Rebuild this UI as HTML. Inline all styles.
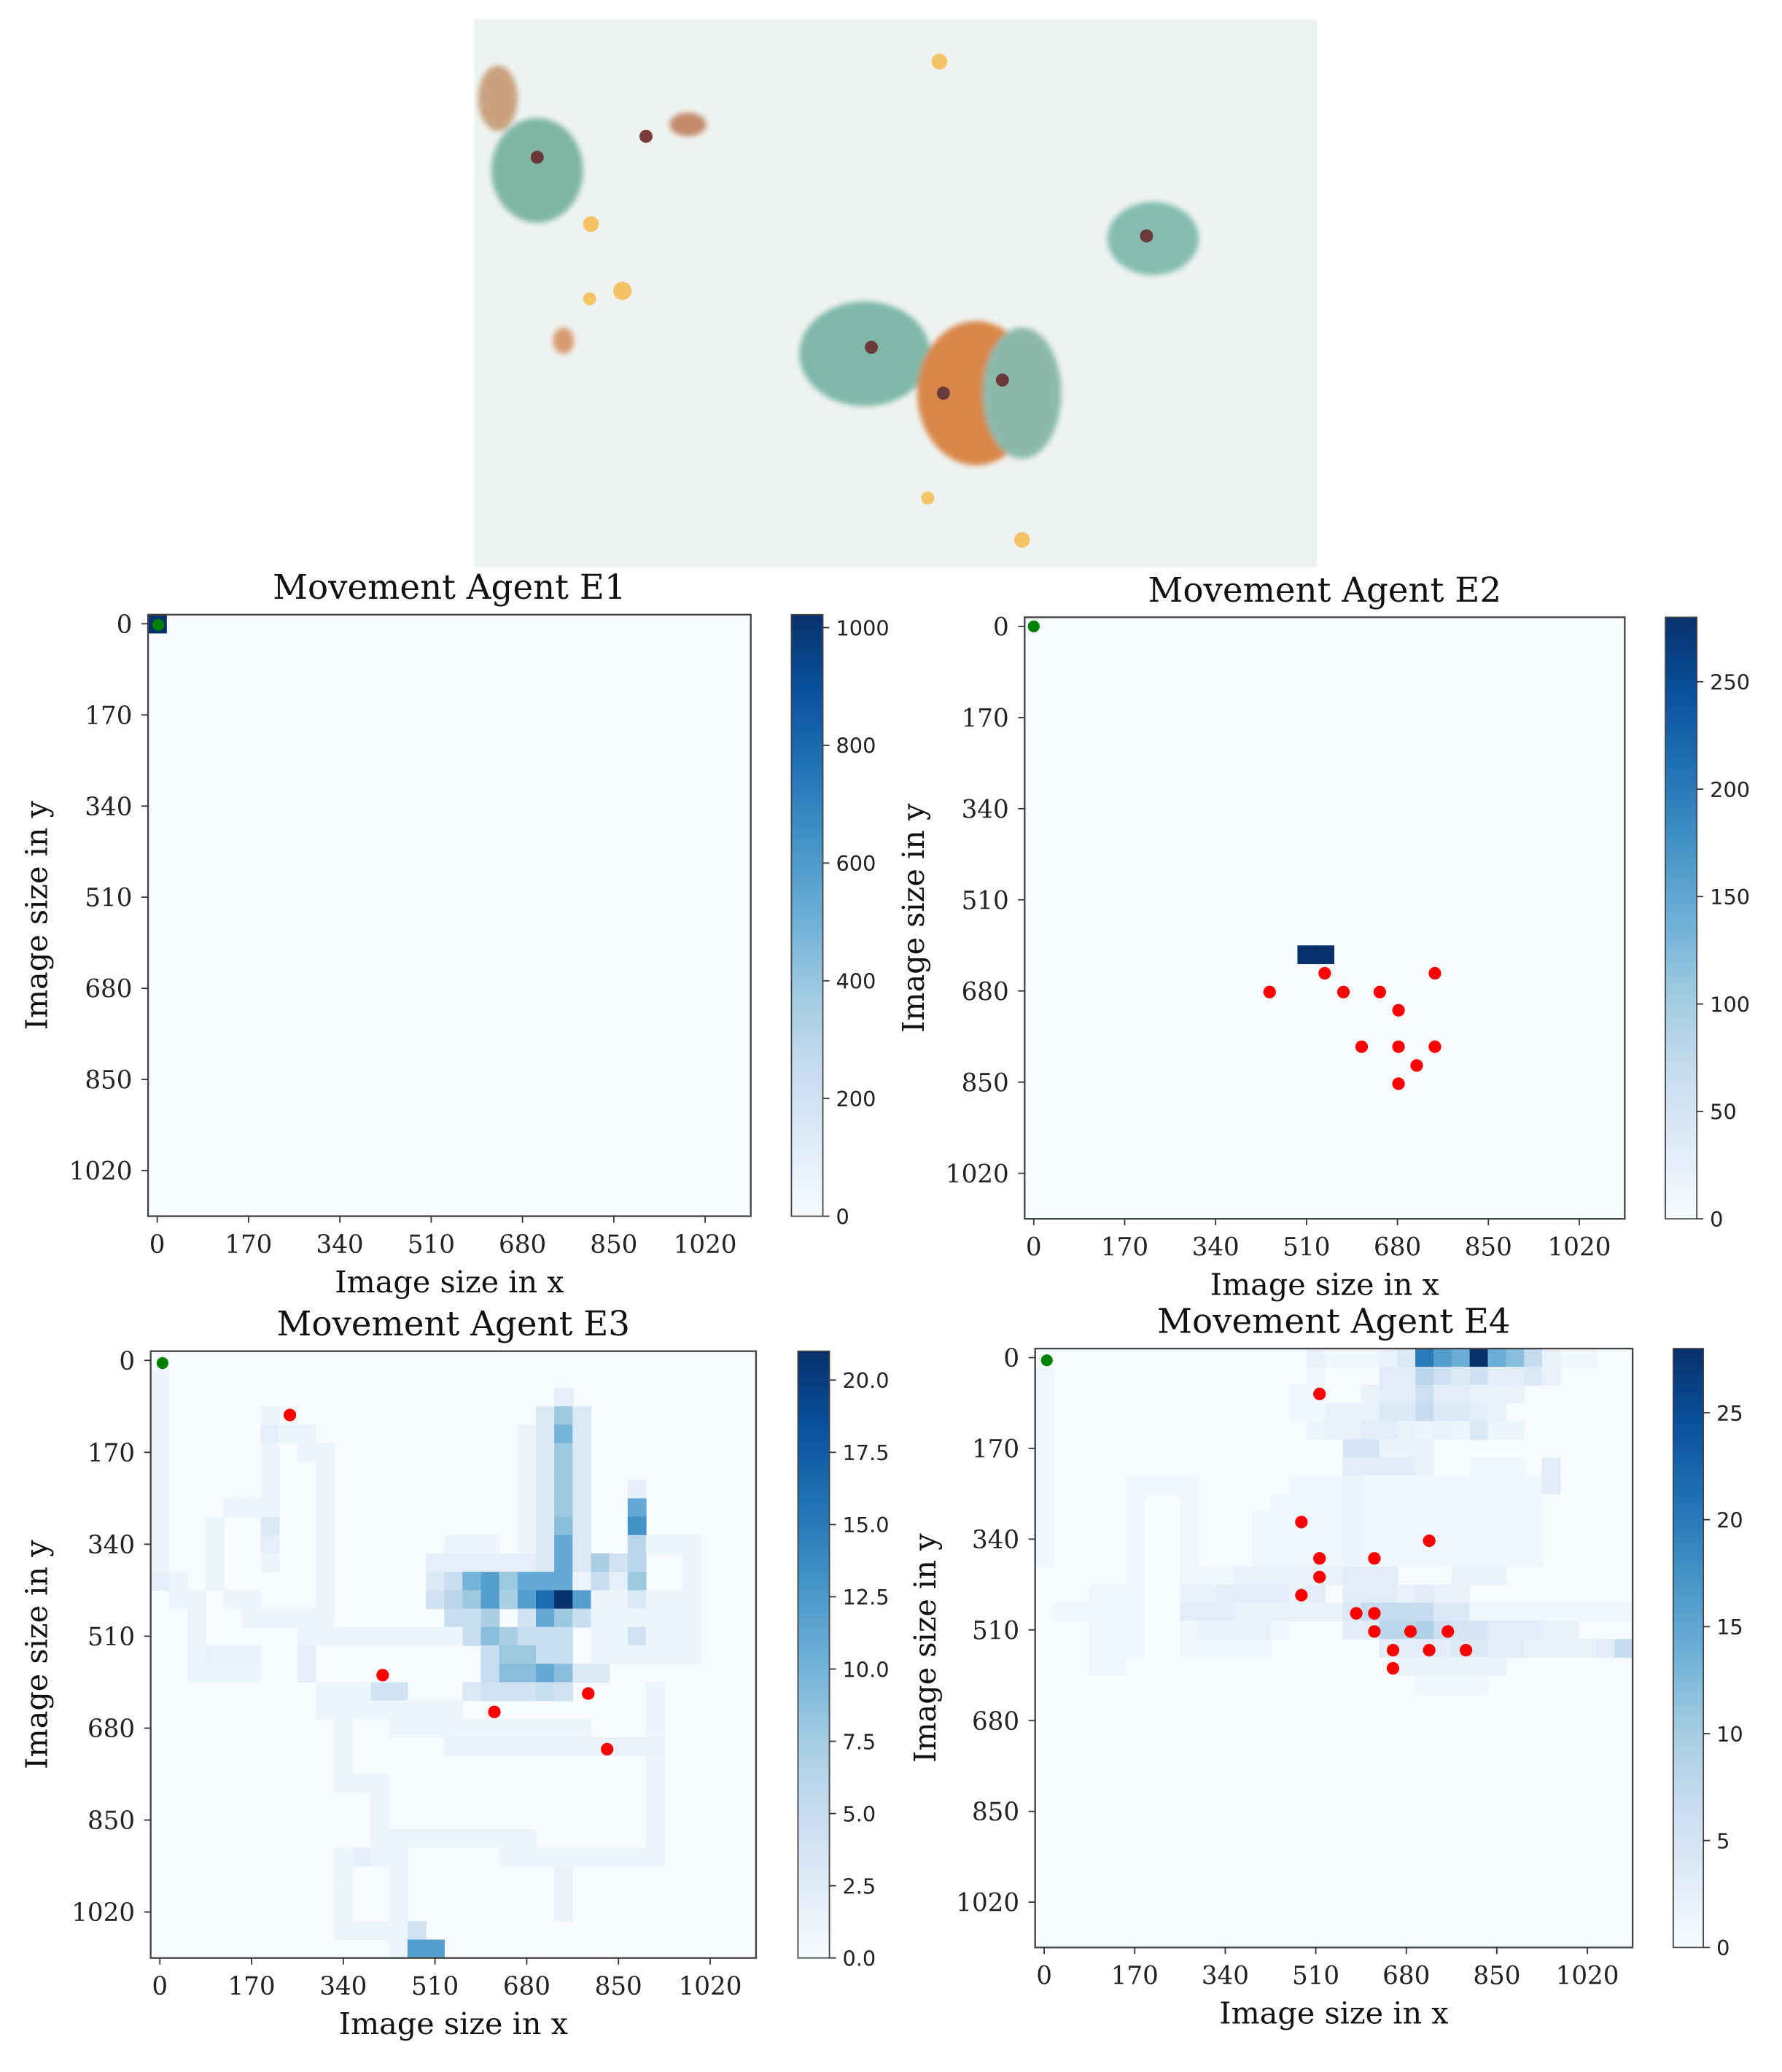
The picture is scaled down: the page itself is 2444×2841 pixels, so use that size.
<!DOCTYPE html>
<html><head><meta charset="utf-8"><style>
html,body{margin:0;padding:0;background:#fff}
svg{display:block}
</style></head><body>
<svg id="fig" width="2444" height="2841" viewBox="0 0 1360 1581" preserveAspectRatio="none" xmlns="http://www.w3.org/2000/svg">
<defs>
<linearGradient id="blues" x1="0" y1="1" x2="0" y2="0">
<stop offset="0" stop-color="#f7fbff"/><stop offset="0.125" stop-color="#deebf7"/><stop offset="0.25" stop-color="#c6dbef"/><stop offset="0.375" stop-color="#9ecae1"/><stop offset="0.5" stop-color="#6baed6"/><stop offset="0.625" stop-color="#4292c6"/><stop offset="0.75" stop-color="#2171b5"/><stop offset="0.875" stop-color="#08519c"/><stop offset="1" stop-color="#08306b"/>
</linearGradient>
<filter id="blur1"><feGaussianBlur stdDeviation="2"/></filter>
</defs>
<g>
<rect x="362" y="15" width="643" height="418" fill="#eef3f1"/>
<g filter="url(#blur1)">
<ellipse cx="410" cy="130" rx="35" ry="40" fill="#7fb5a5"/>
<ellipse cx="380" cy="75" rx="15" ry="25" fill="#c9a17e"/>
<ellipse cx="880" cy="182" rx="35" ry="28" fill="#84bdb0"/>
<ellipse cx="660" cy="270" rx="50" ry="40" fill="#7fb8a8"/>
<ellipse cx="745" cy="300" rx="45" ry="55" fill="#d9874a"/>
<ellipse cx="780" cy="300" rx="30" ry="50" fill="#8ab9aa"/>
<ellipse cx="525" cy="95" rx="14" ry="9" fill="#c38a6a"/>
<ellipse cx="430" cy="260" rx="8" ry="10" fill="#d89a70"/>
</g>
<circle cx="717" cy="47" r="6" fill="#f3c366"/><circle cx="451" cy="171" r="6" fill="#f3c366"/>
<circle cx="475" cy="222" r="7" fill="#f3c366"/><circle cx="450" cy="228" r="5" fill="#f3c366"/>
<circle cx="708" cy="380" r="5" fill="#f3c366"/><circle cx="780" cy="412" r="6" fill="#f3c366"/>
<circle cx="875" cy="180" r="5" fill="#6a3a3a"/><circle cx="665" cy="265" r="5" fill="#6a3a3a"/>
<circle cx="720" cy="300" r="5" fill="#6a3a3a"/><circle cx="765" cy="290" r="5" fill="#6a3a3a"/>
<circle cx="410" cy="120" r="5" fill="#6a3a3a"/><circle cx="493" cy="104" r="5" fill="#7a3a3a"/>
</g>
<g id="panels"></g>
</svg>
<script>
// ---- data ----
const gridN = 33, cellUnits = 34, extMin = -17;
const xTickLabels = [0,170,340,510,680,850,1020];
const yTickLabels = [0,170,340,510,680,850,1020];
const e1Max = 1022, e2Max = 280, e3Max = 21, e4Max = 28;
const e1CbTicks = [0,200,400,600,800,1000];
const e2CbTicks = [0,50,100,150,200,250];
const e3CbTicks = [0,2.5,5,7.5,10,12.5,15,17.5,20];
const e4CbTicks = [0,5,10,15,20,25];
// cells: [col,row,value]
const e1Cells = [[0,0,1022]];
const e2Cells = [[15,18,280],[16,18,280],[20,19,1],[21,20,1],[19,21,1],[20,22,1],[24,15,1]];
// runs: [c0,r0,c1,r1,value]
const e3Runs = [[0,1,0,11,1],[0,12,0,12,2],[1,12,1,13,1],[2,13,2,17,1],[3,9,3,12,1],[4,8,5,8,1],[4,13,5,13,1],
 [6,3,6,11,1],[6,4,6,4,2],[6,9,6,10,2],[7,4,8,4,1],[8,5,8,5,1],[9,5,9,14,1],[5,14,9,14,1],[3,16,5,16,1.5],[2,17,5,17,1],
 [8,15,16,15,1],[8,16,8,17,2],[9,18,12,18,1],[9,19,16,19,1],[13,20,15,20,1],[10,19,10,23,1],[10,23,12,23,1],[12,24,12,26,1],
 [12,26,20,26,1],[13,26,13,32,1],[10,27,12,27,1],[11,27,11,27,2],[10,27,10,31,1],[10,31,14,31,1],[22,28,22,30,1.5],
 [19,27,27,27,1],[27,18,27,27,1],[16,21,27,21,1.5],[15,20,23,20,1],[27,10,29,10,1],[29,10,29,16,1],[24,16,29,16,1],
 [21,3,21,11,3],[23,3,23,11,3],[20,4,20,11,1],[22,2,22,2,2],[24,13,28,15,1],[15,11,20,11,2],[16,10,18,10,1]];
const e3Cells = [[22,13,21],[21,13,16],[23,13,12],[20,13,12],[18,13,12],[19,13,7],[17,13,8],[16,13,6],[15,13,4],
 [15,12,3],[16,12,5],[17,12,10],[18,12,12],[19,12,8],[20,12,11],[21,12,11],[22,12,11],[23,12,1],[24,12,5],[25,12,2],[26,12,8],
 [22,3,8],[22,4,10],[22,5,8],[22,6,8],[22,7,8],[22,8,8],[22,9,9],[22,10,11],[22,11,11],
 [26,7,2],[26,8,11],[26,9,13],[26,10,6],[26,11,6],[26,13,3],[26,15,4],[24,11,7],[25,11,4],
 [16,14,5],[17,14,5],[18,14,7],[20,14,4],[21,14,11],[22,14,8],[23,14,5],
 [17,15,5],[18,15,9],[19,15,7],[20,15,5],[21,15,5],[22,15,5],
 [18,16,5],[19,16,8],[20,16,8],[21,16,5],[22,16,5],
 [18,17,5],[19,17,9],[20,17,9],[21,17,11],[22,17,9],[23,17,3],[24,17,3],
 [12,18,4],[13,18,4],[17,18,3],[18,18,4],[19,18,4],[20,18,4],[21,18,5],[22,18,4],
 [6,9,3],[14,32,12],[15,32,12],[14,31,4]];
const e4Runs = [[0,1,0,11,1],[5,7,8,7,1],[5,8,5,16,1],[8,8,8,13,1],[12,9,14,11,1],[13,8,13,10,1],[17,7,17,12,1.5],
 [3,13,5,13,1],[3,14,4,14,1],[3,15,4,17,1],[8,12,9,16,1],[15,4,26,4,1.5],[24,6,26,8,1],[14,7,27,11,1],[15,0,15,2,1]];
const e4Cells = [[15,0,2],[16,0,1],[17,0,1],[18,0,1],[19,0,2],[20,0,4],[21,0,20],[22,0,16],[23,0,14],[24,0,28],[25,0,14],[26,0,12],[27,0,7],[28,0,2],[29,0,1],[30,0,1],
 [15,1,1],[19,1,3],[20,1,3],[21,1,8],[22,1,6],[23,1,4],[24,1,6],[25,1,3],[26,1,3],[27,1,4],[28,1,2],
 [14,2,1],[18,2,2],[19,2,3],[20,2,3],[21,2,6],[22,2,3],[23,2,3],[24,2,2],[25,2,2],[26,2,2],
 [14,3,1],[15,3,1],[16,3,2],[17,3,2],[18,3,2],[19,3,4],[20,3,4],[21,3,7],[22,3,4],[23,3,4],[24,3,3],[25,3,2],
 [16,4,2],[17,4,2],[18,4,3],[19,4,3],[20,4,2],[22,4,2],[24,4,4],
 [17,5,5],[18,5,5],[19,5,2],[20,5,2],[21,5,2],[17,6,3],[18,6,3],[19,6,3],[20,6,3],[21,6,2],[28,6,3],[28,7,3],
 [10,12,1],[11,12,2],[12,12,2],[13,12,2],[14,12,2],[15,12,2],[16,12,2],[17,12,3],[18,12,3],[19,12,3],[23,12,2],[24,12,2],[25,12,2],
 [8,13,2],[9,13,2],[10,13,3],[11,13,3],[12,13,3],[13,13,3],[14,13,2],[15,13,3],[17,13,3],[18,13,3],[19,13,3],[20,13,2],[21,13,3],[22,13,2],[23,13,2],
 [1,14,1],[2,14,1],[3,14,1],[4,14,1],[8,14,3],[9,14,3],[10,14,3],[11,14,2],[12,14,2],[13,14,2],[14,14,2],[15,14,2],[16,14,2],[17,14,4],[18,14,7],[19,14,7],[20,14,7],[21,14,7],[22,14,4],[23,14,4],[24,14,1],[25,14,1],[26,14,1],[27,14,1],[28,14,1],[29,14,1],[30,14,1],[31,14,1],[32,14,1],
 [8,15,1],[9,15,2],[10,15,2],[11,15,2],[12,15,2],[13,15,1],[17,15,3],[18,15,3],[19,15,8],[20,15,8],[21,15,9],[22,15,6],[23,15,5],[24,15,5],[25,15,3],[26,15,3],[27,15,3],[28,15,2],[29,15,2],
 [9,16,1],[10,16,1],[11,16,1],[12,16,1],[19,16,3],[20,16,3],[21,16,3],[22,16,3],[23,16,4],[24,16,4],[25,16,3],[26,16,3],[27,16,2],[28,16,2],[29,16,2],[30,16,2],[31,16,3],[32,16,7],
 [20,17,2],[21,17,2],[22,17,2],[23,17,2],[24,17,2],[25,17,2],[21,18,1],[22,18,1],[23,18,1],[24,18,1]];
// dots in data units [x,y]
const e1Start = [[2,2]];
const e2Start = [[0,0]];
const e3Start = [[5,5]];
const e4Start = [[5,5]];
const e1Targets = [];
const e2Targets = [[441,682],[544,647],[579,682],[647,682],[682,716],[750,647],[613,784],[682,784],[750,784],[716,819],[682,853]];
const e3Targets = [[241,101],[413,582],[794,616],[620,650],[829,719]];
const e4Targets = [[517,68],[483,308],[723,343],[517,376],[620,376],[517,411],[483,445],[586,479],[620,479],[620,513],[688,513],[758,513],[655,548],[723,548],[792,548],[655,582]];

const panels = [
 {id:'e1',title:'Movement Agent E1',ax:{x:113,y:469,w:460,h:459},cb:{x:604,y:469,w:24,h:459},max:e1Max,cbTicks:e1CbTicks,cbFmt:0,cells:e1Cells,runs:[],starts:e1Start,targets:e1Targets,yl:28},
 {id:'e2',title:'Movement Agent E2',ax:{x:782,y:471,w:458,h:459},cb:{x:1271,y:471,w:24,h:459},max:e2Max,cbTicks:e2CbTicks,cbFmt:0,cells:e2Cells,runs:[],starts:e2Start,targets:e2Targets,yl:697},
 {id:'e3',title:'Movement Agent E3',ax:{x:115,y:1031,w:462,h:463},cb:{x:609,y:1031,w:24,h:463},max:e3Max,cbTicks:e3CbTicks,cbFmt:1,cells:e3Cells,runs:e3Runs,starts:e3Start,targets:e3Targets,yl:28},
 {id:'e4',title:'Movement Agent E4',ax:{x:790,y:1029,w:456,h:457},cb:{x:1277,y:1029,w:23,h:457},max:e4Max,cbTicks:e4CbTicks,cbFmt:0,cells:e4Cells,runs:e4Runs,starts:e4Start,targets:e4Targets,yl:706}
];
const stops = [[247,251,255],[222,235,247],[198,219,239],[158,202,225],[107,174,214],[66,146,198],[33,113,181],[8,81,156],[8,48,107]];
function blues(t){t=Math.max(0,Math.min(1,t));const p=t*8,i=Math.min(7,Math.floor(p)),f=p-i;
 const a=stops[i],b=stops[i+1];return 'rgb('+a.map((v,k)=>Math.round(v+(b[k]-v)*f)).join(',')+')';}
const NS='http://www.w3.org/2000/svg';
function mk(tag,attrs,parent,text){const e=document.createElementNS(NS,tag);for(const k in attrs)e.setAttribute(k,attrs[k]);if(text!==undefined)e.textContent=text;parent.appendChild(e);return e;}
const root=document.getElementById('panels');
const span=gridN*cellUnits;
panels.forEach(p=>{
 const g=mk('g',{},root);
 
 
 const A=p.ax;
 const sx=v=>A.x+(v-extMin)/span*A.w;
 const sy=v=>A.y+(v-extMin)/span*A.h;
 const cw=A.w/gridN, ch=A.h/gridN;
 const grid=[];for(let r=0;r<gridN;r++){grid.push(new Array(gridN).fill(0));}
 p.runs.forEach(([c0,r0,c1,r1,v])=>{for(let r=r0;r<=r1;r++)for(let c=c0;c<=c1;c++)if(grid[r]&&grid[r][c]<v)grid[r][c]=v;});
 p.cells.forEach(([c,r,v])=>{grid[r][c]=v;});
 const bg=mk('rect',{x:A.x,y:A.y,width:A.w,height:A.h,fill:blues(0)},g);
 
 
 for(let r=0;r<gridN;r++)for(let c=0;c<gridN;c++){const v=grid[r][c];if(!v)continue;
  const x0=sx(c*cellUnits-cellUnits/2),y0=sy(r*cellUnits-cellUnits/2);
  const cell=mk('rect',{x:x0.toFixed(2),y:y0.toFixed(2),width:(cw+0.4).toFixed(2),height:(ch+0.4).toFixed(2),fill:blues(v/p.max)},g);
  
  
 }
 p.starts.forEach(([x,y])=>{const d=mk('circle',{cx:sx(x),cy:sy(y),r:4.5,fill:'#008000'},g);
  
  });
 p.targets.forEach(([x,y])=>{const d=mk('circle',{cx:sx(x),cy:sy(y),r:4.8,fill:'#ff0000'},g);
  
  });
 const fr=mk('rect',{x:A.x,y:A.y,width:A.w,height:A.h,fill:'none',stroke:'#444','stroke-width':1.3},g);
 
 
 xTickLabels.forEach(t=>{const x=sx(t);mk('line',{x1:x,y1:A.y+A.h,x2:x,y2:A.y+A.h+5,stroke:'#333'},g);
  const tx=mk('text',{x:x,y:A.y+A.h+28,'text-anchor':'middle','font-family':'DejaVu Serif, Liberation Serif, serif','font-size':19,fill:'#222'},g,String(t));
  
  });
 yTickLabels.forEach(t=>{const y=sy(t);mk('line',{x1:A.x-5,y1:y,x2:A.x,y2:y,stroke:'#333'},g);
  const tx=mk('text',{x:A.x-12,y:y+7,'text-anchor':'end','font-family':'DejaVu Serif, Liberation Serif, serif','font-size':19,fill:'#222'},g,String(t));
  
  });
 const ti=mk('text',{x:A.x+A.w/2,y:A.y-12,'text-anchor':'middle','font-family':'DejaVu Serif, Liberation Serif, serif','font-size':26,fill:'#111'},g,p.title);
 
 
 const xl=mk('text',{x:A.x+A.w/2,y:A.y+A.h+58,'text-anchor':'middle','font-family':'DejaVu Serif, Liberation Serif, serif','font-size':23,fill:'#111'},g,'Image size in x');
 
 
 const yy=A.y+A.h/2;
 const yl=mk('text',{x:p.yl,y:yy,'text-anchor':'middle','font-family':'DejaVu Serif, Liberation Serif, serif','font-size':23,fill:'#111',transform:'rotate(-90 '+(p.yl)+' '+yy+') translate(0 8)'},g,'Image size in y');
 
 
 const C=p.cb;
 const cb=mk('rect',{x:C.x,y:C.y,width:C.w,height:C.h,fill:'url(#blues)',stroke:'#444','stroke-width':1},g);
 
 
 p.cbTicks.forEach(t=>{const y=C.y+C.h-t/p.max*C.h;mk('line',{x1:C.x+C.w,y1:y,x2:C.x+C.w+5,y2:y,stroke:'#333'},g);
  const tx=mk('text',{x:C.x+C.w+10,y:y+6,'font-family':'DejaVu Sans, Liberation Sans, sans-serif','font-size':16,fill:'#222'},g,t.toFixed(p.cbFmt));
  
  });
});
</script>
</body></html>
